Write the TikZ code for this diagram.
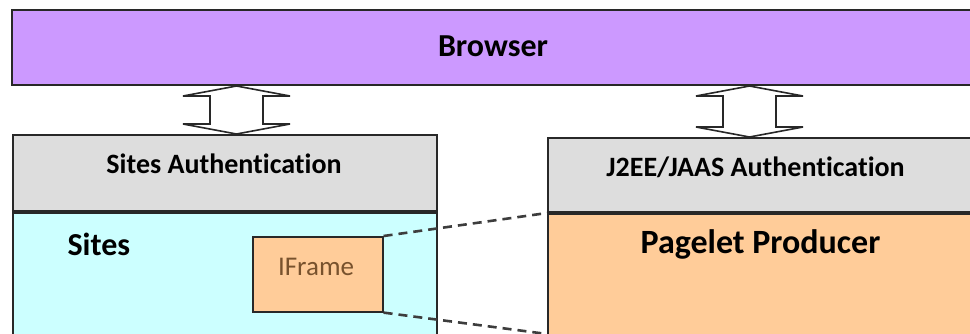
\documentclass[tikz,border=0pt]{standalone}
\usepackage{fontspec}
\setmainfont{Carlito}[Ligatures=NoCommon]
\usetikzlibrary{positioning,calc}
\definecolor{edge}{RGB}{40,40,40}
\definecolor{lilac}{RGB}{204,153,255}
\definecolor{shade}{RGB}{221,221,221}
\definecolor{aqua}{RGB}{204,255,255}
\definecolor{peach}{RGB}{255,204,153}
\definecolor{rust}{RGB}{120,82,45}

\begin{document}
\begin{tikzpicture}[x=1pt,y=-1pt,
  layer/.style={draw=edge,line width=2pt,anchor=north west,inner sep=0pt},
  title/.style={anchor=base,font=\bfseries\fontsize{28}{32}\selectfont},
  big/.style={font=\bfseries\fontsize{#1}{#1}\selectfont},
  updown/.style={draw=edge,line width=1.6pt,fill=white},
  link/.style={draw=edge!90,dash pattern=on 9pt off 6pt,line width=2.6pt}]
  \clip (0,0) rectangle (970,333);
  % layers
  \node[layer,fill=lilac,minimum width=964pt,minimum height=75pt] (browser) at (11,9) {};
  \node[layer,fill=shade,minimum width=424pt,minimum height=76pt] (sauth) at (12,134) {};
  \node[layer,fill=aqua,minimum width=424pt,minimum height=140pt] (sites) at (sauth.south west) {};
  \node[layer,fill=shade,minimum width=430pt,minimum height=74pt] (jauth) at (547,137) {};
  \node[layer,fill=peach,minimum width=430pt,minimum height=140pt] (pagelet) at (jauth.south west) {};
  \node[layer,fill=peach,line width=1.6pt,minimum width=130pt,minimum height=75pt] (iframe) at (252,236) {};
  % two-way arrows
  \foreach \cx/\dst in {236.5/sauth,749.5/jauth} {
    \path (browser.south -| \cx,0) coordinate (top)
          (\dst.north -| \cx,0) coordinate (bot);
    \draw[updown] (top) -- ++(53.5,10) -- ++(-27,0) |- ($(bot)+(53.5,-10)$) -- (bot)
      -- ++(-53.5,-10) -- ++(27,0) |- ($(top)+(-53.5,10)$) -- cycle;
  }
  % iframe view
  \coordinate (pcut) at ($(pagelet.north west)+(0,121)$);
  \draw[link] (iframe.north east) -- (pagelet.north west);
  \draw[link] (iframe.south east) -- (pcut);
  % labels
  \node[title,big=32] (browsertxt) at (493,56) {Browser};
  \node[title] (sauthtxt) at (224,173) {Sites Authentication};
  \node[title] (jauthtxt) at (755.5,176) {J2EE/JAAS Authentication};
  \node[title,big=32,anchor=base west] (sitestxt) at (64,255) {Sites};
  \node[title,big=34] (pagelettxt) at (760.5,253) {Pagelet Producer};
  \node[anchor=base,text=rust,font=\fontsize{27}{27}\selectfont] (iframetxt) at (316,275) {IFrame};
\end{tikzpicture}
\end{document}
